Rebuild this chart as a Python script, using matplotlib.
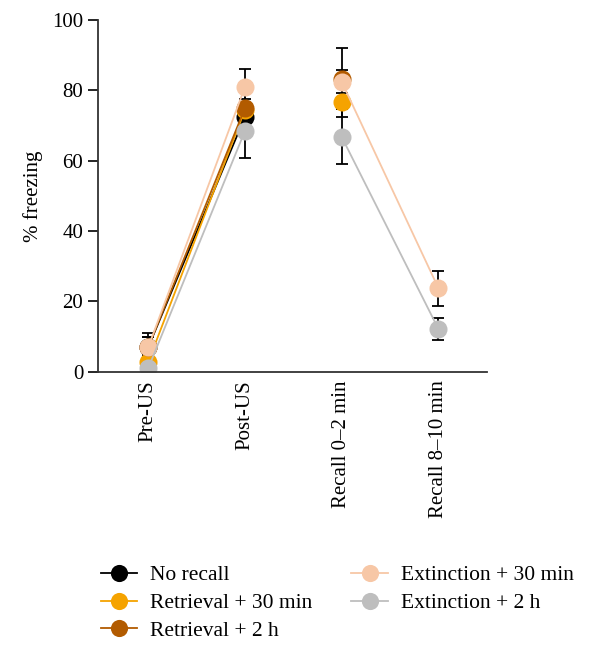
import numpy as np
import matplotlib
matplotlib.use("Agg")
import matplotlib.pyplot as plt

plt.rcParams['font.family'] = ['Liberation Serif', 'DejaVu Serif']

phases = ["Pre-US", "Post-US", "Recall 0\u20132 min", "Recall 8\u201310 min"]
groups = ["No recall", "Retrieval + 30 min", "Retrieval + 2 h",
          "Extinction + 30 min", "Extinction + 2 h"]
colors = ["#000000", "#F5A300", "#B25B00", "#F7C7A6", "#BEBEBE"]

nan = np.nan
# mean % freezing per phase (NaN where the group was not tested)
no_recall = [7, 72.5, nan, nan]
retrieval_30 = [2.8, 74.5, 76.8, nan]
retrieval_2h = [7, 75, 83.3, nan]
extinction_30 = [7, 81, 82.5, 23.8]
extinction_2h = [1, 68.5, 66.8, 12.2]

sem_no_recall = [3, 5, nan, nan]
sem_retrieval_30 = [2, 5, 4.3, nan]
sem_retrieval_2h = [3, 5, 8.7, nan]
sem_extinction_30 = [4, 5, 3.3, 5]
sem_extinction_2h = [1, 7.8, 7.8, 3.2]

means = [no_recall, retrieval_30, retrieval_2h, extinction_30, extinction_2h]
sems = [sem_no_recall, sem_retrieval_30, sem_retrieval_2h,
        sem_extinction_30, sem_extinction_2h]

fig = plt.figure(figsize=(5.9, 6.5), dpi=100)
ax = fig.add_axes([0.166, 0.428, 0.659, 0.541])

x = np.arange(len(phases))

for m, s in zip(means, sems):
    ax.errorbar(x, m, yerr=s, fmt='none', ecolor='black', elinewidth=1.3,
                capsize=4.5, capthick=1.3, zorder=1)

# lines are broken between post-US and recall (different sessions)
for m, c, g in zip(means, colors, groups):
    m = np.array(m, dtype=float)
    for i, (a, b) in enumerate([(0, 2), (2, 4)]):
        ax.plot(x[a:b], m[a:b], color=c, lw=1.3, marker='o', markersize=13,
                markeredgewidth=0, zorder=2,
                label=g if i == 0 else None)

ax.set_ylim(0, 100)
ax.set_xlim(-0.52, 3.5)
ax.set_yticks([0, 20, 40, 60, 80, 100])
ax.set_xticks(x)
ax.set_xticklabels(phases, rotation=90, fontsize=15)
ax.tick_params(axis='y', labelsize=15, length=7, width=1.2, direction='out')
ax.tick_params(axis='x', length=0, pad=6)
ax.set_ylabel("% freezing", fontsize=15, labelpad=7)

ax.spines['top'].set_visible(False)
ax.spines['right'].set_visible(False)
for sp in ['left', 'bottom']:
    ax.spines[sp].set_linewidth(1.3)
    ax.spines[sp].set_color('#333333')

fig.legend(loc='upper left', bbox_to_anchor=(0.138, 0.16), ncol=2,
           frameon=False, fontsize=15.5, handlelength=1.7, markerscale=0.95,
           labelspacing=0.35, columnspacing=1.8, handletextpad=0.6)

fig.savefig("out.png", dpi=100)
